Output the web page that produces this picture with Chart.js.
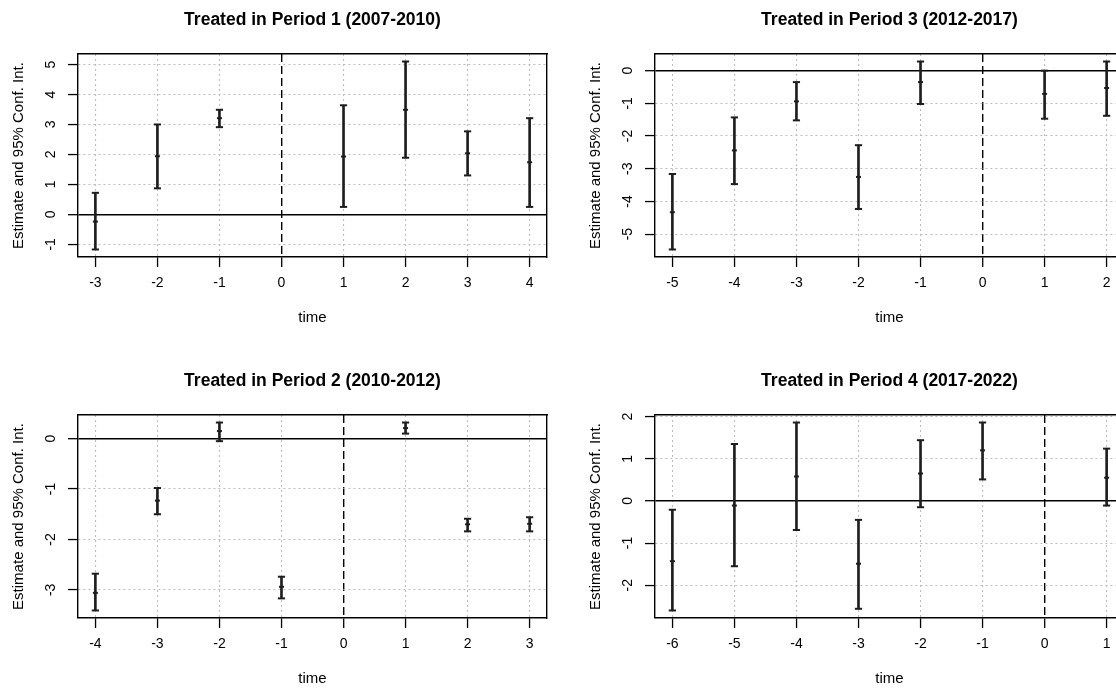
<!DOCTYPE html>
<html>
<head>
<meta charset="utf-8">
<title>Event-study estimates by treatment period</title>
<script src="https://cdn.jsdelivr.net/npm/chart.js@4/dist/chart.umd.min.js"></script>
<style>
  html, body { margin: 0; padding: 0; background: #fff; overflow: hidden; width: 1116px; height: 688px; }
  .panel { position: absolute; width: 577px; height: 361px; }
  .panel canvas { display: block; }
</style>
</head>
<body>
<div class="panel" style="left:0px;top:0px"><canvas id="p1" width="577" height="361"></canvas></div>
<div class="panel" style="left:577px;top:0px"><canvas id="p3" width="577" height="361"></canvas></div>
<div class="panel" style="left:0px;top:361px"><canvas id="p2" width="577" height="361"></canvas></div>
<div class="panel" style="left:577px;top:361px"><canvas id="p4" width="577" height="361"></canvas></div>

<script>
// ---- Period 1 (2007-2010) ----
const title1 = 'Treated in Period 1 (2007-2010)';
const time1 = [-3, -2, -1, 1, 2, 3, 4];
const est1  = [-0.24, 1.94, 3.21, 1.93, 3.49, 2.04, 1.74];
const lo1   = [-1.17, 0.87, 2.91, 0.25, 1.89, 1.30, 0.25];
const hi1   = [0.72, 3.00, 3.49, 3.64, 5.10, 2.77, 3.21];
const xTicks1 = [-3, -2, -1, 0, 1, 2, 3, 4];
const yTicks1 = [-1, 0, 1, 2, 3, 4, 5];

// ---- Period 3 (2012-2017) ----
const title3 = 'Treated in Period 3 (2012-2017)';
const time3 = [-5, -4, -3, -2, -1, 1, 2];
const est3  = [-4.33, -2.44, -0.94, -3.25, -0.35, -0.71, -0.53];
const lo3   = [-5.47, -3.47, -1.52, -4.23, -1.02, -1.47, -1.38];
const hi3   = [-3.16, -1.43, -0.35, -2.28, 0.28, 0.00, 0.28];
const xTicks3 = [-5, -4, -3, -2, -1, 0, 1, 2];
const yTicks3 = [-5, -4, -3, -2, -1, 0];

// ---- Period 2 (2010-2012) ----
const title2 = 'Treated in Period 2 (2010-2012)';
const time2 = [-4, -3, -2, -1, 1, 2, 3];
const est2  = [-3.06, -1.23, 0.15, -2.94, 0.21, -1.70, -1.69];
const lo2   = [-3.41, -1.50, -0.05, -3.17, 0.10, -1.84, -1.84];
const hi2   = [-2.68, -0.98, 0.32, -2.74, 0.32, -1.59, -1.56];
const xTicks2 = [-4, -3, -2, -1, 0, 1, 2, 3];
const yTicks2 = [-3, -2, -1, 0];

// ---- Period 4 (2017-2022) ----
const title4 = 'Treated in Period 4 (2017-2022)';
const time4 = [-6, -5, -4, -3, -2, -1, 1];
const est4  = [-1.43, -0.11, 0.58, -1.49, 0.65, 1.20, 0.55];
const lo4   = [-2.60, -1.55, -0.69, -2.56, -0.15, 0.51, -0.11];
const hi4   = [-0.21, 1.35, 1.86, -0.45, 1.44, 1.86, 1.24];
const xTicks4 = [-6, -5, -4, -3, -2, -1, 0, 1];
const yTicks4 = [-2, -1, 0, 1, 2];

const xLabel = 'time';
const yLabel = 'Estimate and 95% Conf. Int.';

const FONT = '"Liberation Sans", Arial, Helvetica, sans-serif';
Chart.defaults.font.family = FONT;
Chart.defaults.color = '#000';

// axis limits padded by 4% on each side, like R's default
function padRange(a, b) {
  const d = (b - a) * 0.04;
  return [a - d, b + d];
}

const GRID = '#bdbdbd';
const INK = '#1e1e1e';

function drawPanel(id, title, times, est, lo, hi, xTicks, yTicks) {
  const xr = padRange(Math.min(...times), Math.max(...times));
  const yr = padRange(Math.min(...lo), Math.max(...hi));
  const isZero = c => c.tick && c.tick.value === 0;

  new Chart(document.getElementById(id), {
    type: 'scatter',
    data: {
      datasets: [
        { // confidence interval whiskers
          type: 'bar',
          data: times.map((t, i) => ({ x: t, y: [lo[i], hi[i]] })),
          backgroundColor: INK,
          borderWidth: 0,
          barThickness: 2
        },
        { // lower caps
          type: 'scatter',
          data: times.map((t, i) => ({ x: t, y: lo[i] })),
          pointStyle: 'line', radius: 3.6, hoverRadius: 3.6,
          borderColor: INK, borderWidth: 2
        },
        { // upper caps
          type: 'scatter',
          data: times.map((t, i) => ({ x: t, y: hi[i] })),
          pointStyle: 'line', radius: 3.6, hoverRadius: 3.6,
          borderColor: INK, borderWidth: 2
        },
        { // point estimates
          type: 'scatter',
          data: times.map((t, i) => ({ x: t, y: est[i] })),
          pointStyle: 'line', radius: 2.5, hoverRadius: 2.5,
          borderColor: INK, borderWidth: 2
        }
      ]
    },
    options: {
      responsive: false,
      animation: false,
      events: [],
      layout: { padding: { left: 0, top: 0, right: 30, bottom: 0 } },
      plugins: {
        legend: { display: false },
        tooltip: { enabled: false },
        title: {
          display: true,
          text: title,
          fullSize: false,
          color: '#000',
          font: { family: FONT, size: 17.5, weight: 'bold' },
          padding: { top: 9.5, bottom: 23.5 }
        }
      },
      scales: {
        x: {
          type: 'linear',
          position: 'bottom',
          min: xr[0], max: xr[1],
          offset: false,
          afterBuildTicks: s => { s.ticks = xTicks.map(v => ({ value: v })); },
          afterFit: s => { s.height = 104; },
          grid: {
            offset: false,
            color: c => isZero(c) ? '#000' : GRID,
            lineWidth: c => isZero(c) ? 1.4 : 1.1,
            tickColor: '#000', tickWidth: 1.3, tickLength: 10, tickBorderDash: []
          },
          border: {
            display: true, color: '#000', width: 1.4,
            dash: c => isZero(c) ? [8, 4] : [2, 3]
          },
          ticks: {
            autoSkip: false, maxRotation: 0, minRotation: 0,
            padding: 7.6, color: '#000',
            font: { family: FONT, size: 14 }
          },
          title: {
            display: true, text: xLabel, color: '#000',
            font: { family: FONT, size: 15 },
            padding: { top: 0, bottom: 34 }
          }
        },
        x2: {
          type: 'linear',
          position: 'top',
          afterFit: s => { s.height = 0; },
          grid: { display: false, drawTicks: false },
          ticks: { display: false },
          border: { display: true, color: '#000', width: 1.4 }
        },
        y: {
          type: 'linear',
          position: 'left',
          min: yr[0], max: yr[1],
          afterBuildTicks: s => { s.ticks = yTicks.map(v => ({ value: v })); },
          afterFit: s => { s.width = 78; },
          grid: {
            color: c => isZero(c) ? '#000' : GRID,
            lineWidth: c => isZero(c) ? 1.4 : 1.1,
            tickColor: '#000', tickWidth: 1.3, tickLength: 10, tickBorderDash: []
          },
          border: {
            display: true, color: '#000', width: 1.4,
            dash: c => isZero(c) ? [] : [2, 3]
          },
          ticks: {
            minRotation: 90, maxRotation: 90, crossAlign: 'center',
            padding: 11, color: '#000',
            font: { family: FONT, size: 14 }
          },
          title: {
            display: true, text: yLabel, color: '#000',
            font: { family: FONT, size: 15 },
            padding: { top: 10, bottom: 0 }
          }
        },
        y2: {
          type: 'linear',
          position: 'right',
          afterFit: s => { s.width = 0; },
          grid: { display: false, drawTicks: false },
          ticks: { display: false },
          border: { display: true, color: '#000', width: 1.4 }
        }
      }
    }
  });
}

drawPanel('p1', title1, time1, est1, lo1, hi1, xTicks1, yTicks1);
drawPanel('p3', title3, time3, est3, lo3, hi3, xTicks3, yTicks3);
drawPanel('p2', title2, time2, est2, lo2, hi2, xTicks2, yTicks2);
drawPanel('p4', title4, time4, est4, lo4, hi4, xTicks4, yTicks4);
</script>
</body>
</html>
